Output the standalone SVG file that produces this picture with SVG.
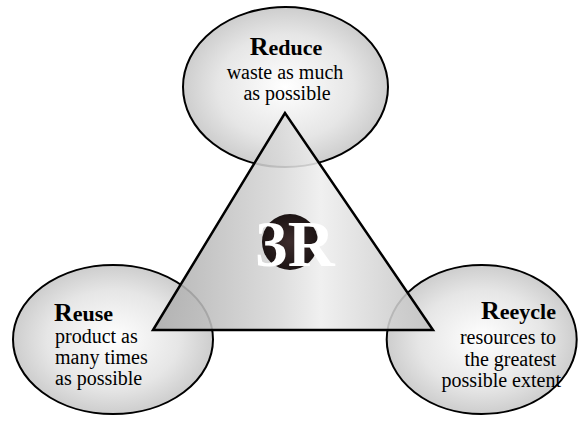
<svg xmlns="http://www.w3.org/2000/svg" width="578" height="421" viewBox="0 0 578 421">
<defs>
<radialGradient id="ell" cx="50%" cy="50%" r="55%">
<stop offset="0" stop-color="#ffffff"/>
<stop offset="0.6" stop-color="#e6e6e6"/>
<stop offset="1" stop-color="#c6c6c6"/>
</radialGradient>
<linearGradient id="tri" x1="0" y1="0" x2="1" y2="0">
<stop offset="0" stop-color="#aaaaaa"/>
<stop offset="0.45" stop-color="#d8d8d8"/>
<stop offset="0.6" stop-color="#eeeeee"/>
<stop offset="1" stop-color="#c0c0c0"/>
</linearGradient>
<radialGradient id="dot" cx="50%" cy="50%" r="50%">
<stop offset="0" stop-color="#3d2c2c"/>
<stop offset="1" stop-color="#1c1414"/>
</radialGradient>
<style>
.ell{fill:url(#ell);stroke:#000;stroke-width:2}
.t{font-family:"Liberation Serif","Times New Roman",serif;font-size:20px;fill:#000}
.h{font-family:"Liberation Serif","Times New Roman",serif;font-weight:bold;font-size:22px;fill:#000}
.big{font-size:26px}
</style>
</defs>
<g id="reduce">
<ellipse class="ell" cx="285.5" cy="87" rx="102.5" ry="80"/>
<text class="h" x="286" y="55" text-anchor="middle"><tspan class="big">R</tspan>educe</text>
<text class="t" x="285" y="79" text-anchor="middle">waste as much</text>
<text class="t" x="287" y="100" text-anchor="middle">as possible</text>
</g>
<g id="reuse">
<ellipse class="ell" cx="113" cy="339.5" rx="100" ry="74.5"/>
<text class="h" x="54" y="321"><tspan class="big">R</tspan>euse</text>
<text class="t" x="55" y="343">product as</text>
<text class="t" x="55" y="364">many times</text>
<text class="t" x="55" y="385">as possible</text>
</g>
<g id="recycle">
<ellipse class="ell" cx="481.7" cy="339.5" rx="95" ry="74.5"/>
<text class="h" x="556" y="319" text-anchor="end"><tspan class="big">R</tspan>eeycle</text>
<text class="t" x="556" y="344" text-anchor="end">resources to</text>
<text class="t" x="556" y="366" text-anchor="end">the greatest</text>
<text class="t" x="561" y="387" text-anchor="end">possible extent</text>
</g>
<g id="threeR">
<polygon points="285,113 153,330 433,330" fill="url(#tri)" fill-opacity="0.88" stroke="#000" stroke-width="2.5" stroke-linejoin="miter"/>
<circle cx="290" cy="242" r="28" fill="url(#dot)"/>
<text x="295" y="266" text-anchor="middle" font-family="'Liberation Serif','Times New Roman',serif" font-weight="bold" font-size="65" fill="#fff">3R</text>
</g>
</svg>
